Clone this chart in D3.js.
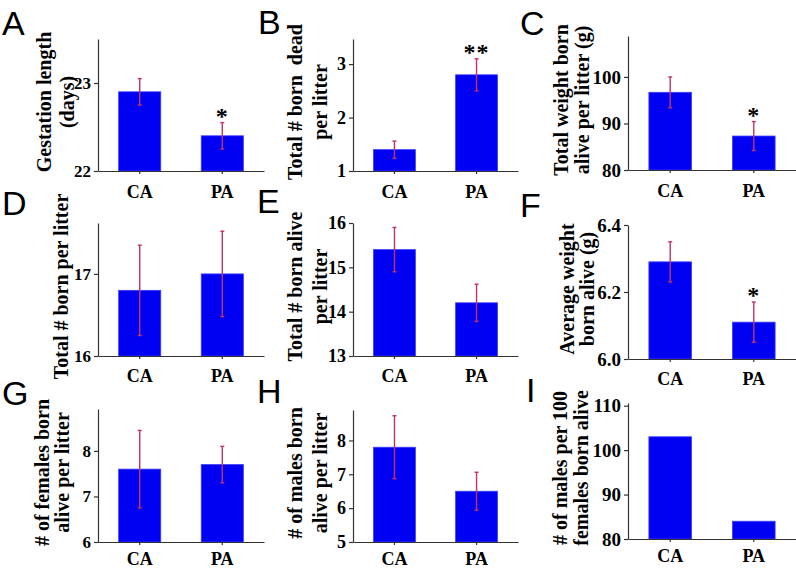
<!DOCTYPE html>
<html>
<head>
<meta charset="utf-8">
<script src="https://cdn.jsdelivr.net/npm/d3@7"></script>
<style>
  html, body { margin: 0; padding: 0; background: #fff; }
  svg { display: block; }
</style>
</head>
<body>
<script>
// ---------------- data ----------------
const groups = ["CA", "PA"];
const panelLetters = ["A", "B", "C", "D", "E", "F", "G", "H", "I"];
const yTitles = [
  ["Gestation length", "(days)"],
  ["Total # born  dead", "per litter"],
  ["Total weight born", "alive per litter (g)"],
  ["Total # born per litter"],
  ["Total # born alive", "per litter"],
  ["Average weight", "born alive (g)"],
  ["# of females born", "alive per litter"],
  ["# of males born", "alive per litter"],
  ["# of males per 100", "females born alive"]
];
const gestationMean = [22.9, 22.4],  gestationErr = [0.15, 0.15];
const bornDeadMean  = [1.4, 2.8],    bornDeadErr  = [0.16, 0.3];
const weightAliveMean = [96.7, 87.3], weightAliveErr = [3.3, 3.1];
const bornTotalMean = [16.8, 17.0],  bornTotalErr = [0.55, 0.52];
const bornAliveMean = [15.4, 14.2],  bornAliveErr = [0.5, 0.42];
const avgWeightMean = [6.29, 6.11],  avgWeightErr = [0.06, 0.06];
const femalesMean   = [7.6, 7.7],    femalesErr   = [0.85, 0.4];
const malesMean     = [7.8, 6.5],    malesErr     = [0.93, 0.56];
const sexRatioMean  = [103, 84];
const significance  = ["*", "**", "*", "", "", "*", "", "", ""]; // marked on PA
const tickValuesA = [22, 23], tickValuesB = [1, 2, 3], tickValuesC = [80, 90, 100];
const tickValuesD = [16, 17], tickValuesE = [13, 14, 15, 16], tickValuesF = [6.0, 6.2, 6.4];
const tickValuesG = [6, 7, 8], tickValuesH = [5, 6, 7, 8], tickValuesI = [80, 90, 100, 110];
const domainA = [22, 23.5], domainB = [1, 3.47], domainC = [80, 108.8];
const domainD = [16, 17.62], domainE = [13, 16], domainF = [6.0, 6.4];
const domainG = [6, 8.92], domainH = [5, 8.9], domainI = [80, 110.6];

const panels = [
  { mean: gestationMean, err: gestationErr, ticks: tickValuesA, domain: domainA, fmt: d3.format("d") },
  { mean: bornDeadMean, err: bornDeadErr, ticks: tickValuesB, domain: domainB, fmt: d3.format("d") },
  { mean: weightAliveMean, err: weightAliveErr, ticks: tickValuesC, domain: domainC, fmt: d3.format("d") },
  { mean: bornTotalMean, err: bornTotalErr, ticks: tickValuesD, domain: domainD, fmt: d3.format("d") },
  { mean: bornAliveMean, err: bornAliveErr, ticks: tickValuesE, domain: domainE, fmt: d3.format("d") },
  { mean: avgWeightMean, err: avgWeightErr, ticks: tickValuesF, domain: domainF, fmt: d3.format(".1f") },
  { mean: femalesMean, err: femalesErr, ticks: tickValuesG, domain: domainG, fmt: d3.format("d") },
  { mean: malesMean, err: malesErr, ticks: tickValuesH, domain: domainH, fmt: d3.format("d") },
  { mean: sexRatioMean, err: null, ticks: tickValuesI, domain: domainI, fmt: d3.format("d") }
];

// ---------------- layout ----------------
const W = 796, H = 568;
const axisX = [98, 353, 628];
const xLen = [166, 165, 168];
const xLabelPad = [11, 10, 7];
const tickFont = [17, 18, 19];
const yRanges = [
  [171, 39], [171, 39], [170, 36],
  [356, 223], [356, 223], [359, 225],
  [542, 409], [542, 410], [539, 403]
];
const titleX = [
  [44, 67], [295, 320], [561, 582],
  [61], [295, 320], [567, 587],
  [42, 62], [295, 320], [560, 581]
];
const letterPos = [
  [2, 35], [258, 34], [520, 35],
  [2, 215], [257, 213], [520, 217],
  [2, 405], [257, 403], [526, 402]
];

const serif = "'Liberation Serif', 'Times New Roman', serif";
const sans = "'Liberation Sans', Arial, sans-serif";
const barColor = "#0000f2";
const errColor = "#c4335f";
const axisColor = "#333";

const svg = d3.select("body").append("svg")
  .attr("width", W).attr("height", H)
  .attr("viewBox", `0 0 ${W} ${H}`);

svg.append("rect").attr("width", W).attr("height", H).attr("fill", "#fff");

panels.forEach((p, i) => {
  const col = i % 3, row = Math.floor(i / 3);
  const g = svg.append("g");
  const x0 = axisX[col];
  const x = d3.scaleBand().domain(groups)
    .range([x0, x0 + xLen[col]])
    .paddingInner(0.49).paddingOuter(0.25);
  const y = d3.scaleLinear().domain(p.domain).range(yRanges[i]);
  const yBase = yRanges[i][0];

  // bars
  g.selectAll("rect.bar").data(groups).join("rect")
    .attr("class", "bar")
    .attr("x", d => x(d))
    .attr("width", x.bandwidth())
    .attr("y", (d, k) => y(p.mean[k]))
    .attr("height", (d, k) => yBase - y(p.mean[k]))
    .attr("fill", barColor)
    .attr("stroke", "#3d3dff")
    .attr("stroke-width", 0.8);

  // error bars
  if (p.err) {
    const eg = g.selectAll("g.err").data(groups).join("g").attr("class", "err");
    eg.append("line")
      .attr("x1", d => x(d) + x.bandwidth() / 2)
      .attr("x2", d => x(d) + x.bandwidth() / 2)
      .attr("y1", (d, k) => y(p.mean[k] - p.err[k]))
      .attr("y2", (d, k) => y(p.mean[k] + p.err[k]))
      .attr("stroke", errColor).attr("stroke-width", 1.4);
    [1, -1].forEach(s => {
      eg.append("line")
        .attr("x1", d => x(d) + x.bandwidth() / 2 - 2)
        .attr("x2", d => x(d) + x.bandwidth() / 2 + 2)
        .attr("y1", (d, k) => y(p.mean[k] + s * p.err[k]))
        .attr("y2", (d, k) => y(p.mean[k] + s * p.err[k]))
        .attr("stroke", errColor).attr("stroke-width", 1.4);
    });
    if (significance[i]) {
      g.append("text")
        .attr("x", x("PA") + x.bandwidth() / 2)
        .attr("y", y(p.mean[1] + p.err[1]) + 1)
        .attr("text-anchor", "middle")
        .attr("font-family", serif).attr("font-weight", "bold")
        .attr("font-size", 24)
        .attr("letter-spacing", "1px")
        .text(significance[i]);
    }
  }

  // y axis
  const ya = g.append("g")
    .attr("transform", `translate(${x0},0)`)
    .call(d3.axisLeft(y).tickValues(p.ticks).tickFormat(p.fmt).tickSize(4).tickSizeOuter(0).tickPadding(3));
  ya.select(".domain").attr("stroke", axisColor).attr("stroke-width", 1.2);
  ya.selectAll(".tick line").attr("stroke", axisColor).attr("stroke-width", 1.2);
  ya.selectAll(".tick text")
    .attr("font-family", serif).attr("font-weight", "bold")
    .attr("font-size", tickFont[col]).attr("fill", "#000");

  // x axis
  const xa = g.append("g")
    .attr("transform", `translate(0,${yBase})`)
    .call(d3.axisBottom(x).tickSize(3).tickSizeOuter(0).tickPadding(xLabelPad[row]));
  xa.select(".domain").attr("stroke", axisColor).attr("stroke-width", 1.2);
  xa.selectAll(".tick line").attr("stroke", axisColor).attr("stroke-width", 1.2);
  xa.selectAll(".tick text")
    .attr("font-family", serif).attr("font-weight", "bold")
    .attr("font-size", 18).attr("fill", "#000");

  // y title
  const cy = (yRanges[i][0] + yRanges[i][1]) / 2 - 3;
  yTitles[i].forEach((line, li) => {
    g.append("text")
      .attr("transform", `translate(${titleX[i][li]},${cy}) rotate(-90)`)
      .attr("text-anchor", "middle")
      .attr("dominant-baseline", "central")
      .attr("font-family", serif).attr("font-weight", "bold")
      .attr("font-size", 20).attr("fill", "#000")
      .style("white-space", "pre")
      .text(line);
  });

  // panel letter
  g.append("text")
    .attr("x", letterPos[i][0]).attr("y", letterPos[i][1])
    .attr("font-family", sans).attr("font-size", 34).attr("fill", "#000")
    .text(panelLetters[i]);
});
</script>
</body>
</html>
